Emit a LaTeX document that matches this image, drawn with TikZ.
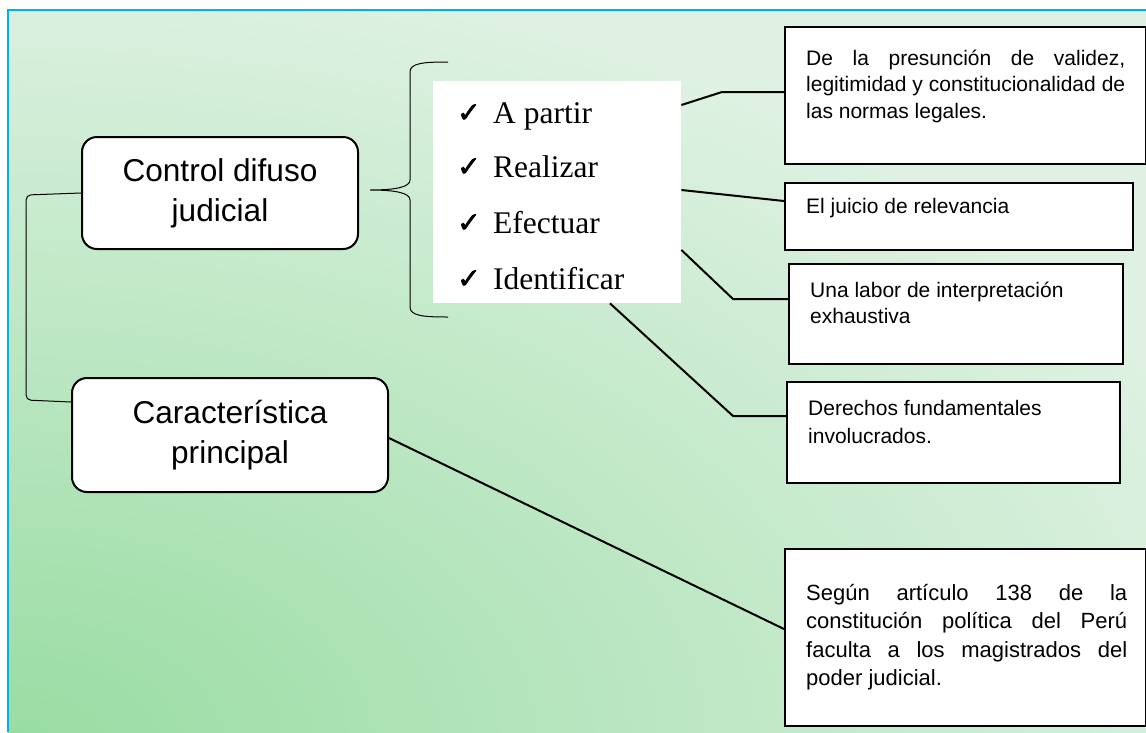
\documentclass[tikz,border=0pt]{standalone}
\usepackage{fontspec}
\setmainfont{Liberation Sans}
\newfontfamily\romanfont{Liberation Serif}
\newfontfamily\checkfont{DejaVu Sans}[FakeBold=2.2]
\usetikzlibrary{calc}

\definecolor{mint}{HTML}{DEF1E2}
\definecolor{leaf}{HTML}{98DCA2}
\definecolor{frameblue}{HTML}{00B0F0}

\tikzset{
  headbox/.style={draw=black, line width=2pt, fill=white, rounded corners=15pt,
    align=center, inner sep=0pt, font=\fontsize{31.6}{40}\selectfont},
  panel/.style={draw=black, line width=2pt, fill=white, inner sep=0pt, anchor=north west},
  paneltext/.style={inner sep=0pt, anchor=base west, font=\fontsize{21}{26.7}\selectfont},
  listbox/.style={fill=white, inner sep=0pt, anchor=north west},
  listitem/.style={inner sep=0pt, anchor=base west, font=\romanfont\fontsize{31.5}{36}\selectfont},
  link/.style={draw=black, line width=2pt},
  thinlink/.style={draw=black, line width=1pt},
}
\newcommand{\tick}{\makebox[36pt][l]{\raisebox{1pt}{\checkfont\fontsize{28}{28}\selectfont ✓}}}

\begin{document}
\begin{tikzpicture}[x=1pt, y=-1pt]
  % page and framed background
  \useasboundingbox (0,0) rectangle (1146,732);
  \fill[white] (0,0) rectangle (1146,732);
  \begin{scope}
    \clip (8,10) rectangle (1146,732);
    \fill[mint] (8,10) rectangle (1146,732);
    \shade[inner color=leaf, outer color=mint] (8,745) ellipse (1300 and 780);
  \end{scope}
  \draw[frameblue, line width=2pt] (1146,10) -- (8,10) -- (8,732);

  % main headings
  \node[headbox, minimum width=276pt, minimum height=112pt] (ctl) at (220,193) {Control difuso\\judicial};
  \node[headbox, minimum width=316pt, minimum height=114pt] (car) at (230,435) {Característica\\principal};

  % bracket joining the two headings
  \draw[thinlink, rounded corners=5pt] (ctl.west) -- (26,195) -- (26,400) -- (car.west |- 0,402);

  % curly brace opening the list
  \coordinate (tip) at (370,190);
  \draw[thinlink] (448,62) .. controls (424,62) and (410,63) .. (410,72) -- (410,180)
    .. controls (410,187) and (396,190) .. (tip)
    .. controls (396,190) and (410,193) .. (410,200) -- (410,307)
    .. controls (410,316) and (424,317) .. (448,317);

  % list of actions
  \node[listbox, minimum width=248pt, minimum height=222pt] (lst) at (433,81) {};
  \node[listitem] (i1) at (457,123) {\tick A partir};
  \node[listitem] (i2) at (457,177) {\tick Realizar};
  \node[listitem] (i3) at (457,233) {\tick Efectuar};
  \node[listitem] (i4) at (457,289) {\tick Identificar};

  % right hand panels
  \node[panel, minimum width=361pt, minimum height=137pt] (b1) at (784,26) {};
  \node[paneltext] (b1t) at (806,65) {\parbox[t]{330pt}{\fontsize{21}{26.7}\selectfont
    \makebox[319pt][s]{De la presunción de validez,}\\
    \makebox[319pt][s]{legitimidad y constitucionalidad de}\\
    las normas legales.}};

  \node[panel, minimum width=348pt, minimum height=67pt] (b2) at (784,182) {};
  \node[paneltext] (b2t) at (806,213) {El juicio de relevancia};

  \node[panel, minimum width=334pt, minimum height=100pt] (b3) at (788,263) {};
  \node[paneltext] (b3t) at (810,297) {\parbox[t]{300pt}{\fontsize{21}{26.7}\selectfont
    Una labor de interpretación\\exhaustiva}};

  \node[panel, minimum width=333pt, minimum height=101pt] (b4) at (786,381) {};
  \node[paneltext] (b4t) at (808,415) {\parbox[t]{300pt}{\fontsize{21}{28}\selectfont
    Derechos fundamentales\\involucrados.}};

  \node[panel, minimum width=361pt, minimum height=177pt] (b5) at (784,548) {};
  \node[paneltext] (b5t) at (806,600) {\parbox[t]{330pt}{\fontsize{22}{28.5}\selectfont
    \makebox[321pt][s]{Según artículo 138 de la}\\
    \makebox[321pt][s]{constitución política del Perú}\\
    \makebox[321pt][s]{faculta a los magistrados del}\\
    poder judicial.}};

  % connectors from the list to the panels
  \coordinate (k1) at (722,92);
  \coordinate (k3) at (733,299);
  \coordinate (k4) at (733,416);
  \draw[link] (lst.east |- 0,105) -- (k1) -- (b1.west |- k1);
  \draw[link] (lst.east |- 0,190) -- (b2.west |- 0,201);
  \draw[link] (lst.east |- 0,250) -- (k3) -- (b3.west |- k3);
  \draw[link] (lst.south -| 610,0) -- (k4) -- (b4.west |- k4);
  \draw[link] (car.east |- 0,438) -- (b5.west |- 0,629);
\end{tikzpicture}
\end{document}
